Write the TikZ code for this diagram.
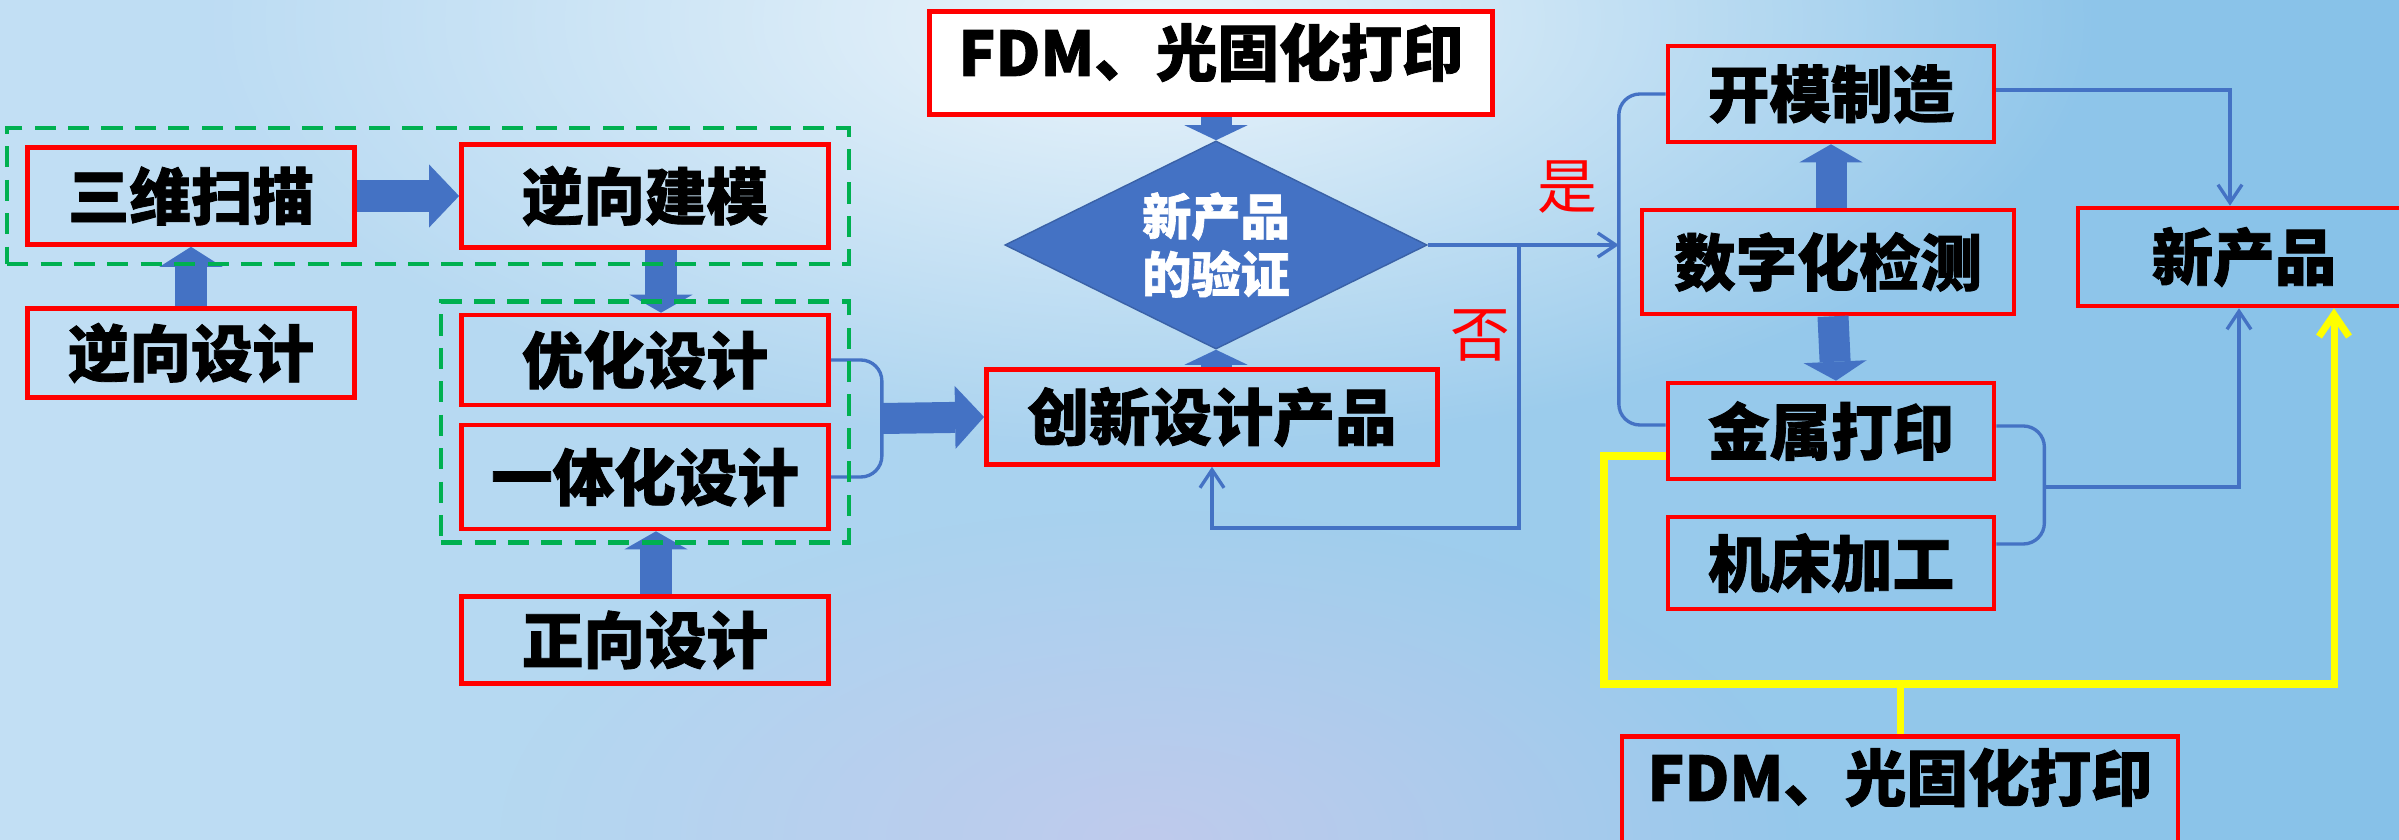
\documentclass[tikz,border=0pt]{standalone}
\usepackage{fontspec}
\newfontfamily\cjk{Noto Sans CJK SC}
\newfontfamily\cjkheavy{Noto Sans CJK SC}[FakeBold=1.3]
\usetikzlibrary{shapes.geometric, arrows.meta, calc, fit, fadings}

\definecolor{boxred}{HTML}{FF0000}
\definecolor{flowblue}{HTML}{4472C4}
\definecolor{dashgreen}{HTML}{00B050}
\definecolor{pathyellow}{HTML}{FFFF00}
\definecolor{bgleft}{HTML}{C2DFF4}
\definecolor{bgmid}{HTML}{CFE5F6}
\definecolor{bgright}{HTML}{86C1E8}
\definecolor{lavender}{HTML}{CAC8EC}

\tikzfading[name=fuzzyglow, inner color=transparent!0, outer color=transparent!100]

\tikzset{
  box/.style={draw=boxred, line width=1.3pt, inner sep=0pt, minimum width=#1,
    font=\cjkheavy\bfseries\fontsize{17.5}{20}\selectfont},
  box/.default=3.67cm,
  group/.style={draw=dashgreen, line width=1.3pt, dash pattern=on 6pt off 3.5pt, inner xsep=0.18cm},
  blockarrow/.style={flowblue, line width=0.31cm,
    -{Triangle[width=0.63cm, length=#1, line width=0pt]}},
  blockarrow/.default=0.2cm,
  thinline/.style={flowblue, line width=0.95pt},
  yellowline/.style={pathyellow, line width=2pt},
  answer/.style={text=boxred, font=\cjk\fontsize{17}{20}\selectfont}
}

\begin{document}
\begin{tikzpicture}[x=0.01cm, y=-0.01cm,
  >={Straight Barb[length=0.18cm, width=0.24cm]}]
\useasboundingbox (0,0) rectangle (2399,840);
\clip (0,0) rectangle (2399,840);
\shade[left color=bgleft, middle color=bgmid, right color=bgright] (0,0) rectangle (2399,840);
\fill[white, fill opacity=0.8, path fading=fuzzyglow] (1150,20) ellipse [x radius=950, y radius=430];
\fill[lavender, fill opacity=0.7, path fading=fuzzyglow] (1150,840) ellipse [x radius=650, y radius=330];

\node[box=3.27cm, minimum height=0.97cm] (scan) at (191,196) {三维扫描};
\node[box, minimum height=1.03cm] (rmodel) at (645,196) {逆向建模};
\node[box=3.27cm, minimum height=0.89cm] (rdesign) at (191,353) {逆向设计};
\node[box, minimum height=0.90cm] (optdesign) at (645,360) {优化设计};
\node[box, minimum height=1.04cm] (integ) at (645,477) {一体化设计};
\node[box, minimum height=0.87cm] (fdesign) at (645,640) {正向设计};
\node[box=4.51cm, minimum height=0.95cm] (innov) at (1212,417) {创新设计产品};
\node[box=5.63cm, minimum height=1.03cm, fill=white, text depth=0.27cm] (fdmtop) at (1211,63) {FDM、光固化打印};
\node[diamond, aspect=2, minimum width=4.22cm, minimum height=2.08cm, inner sep=0pt,
  fill=flowblue, draw=flowblue!85!black, text=white, align=center,
  font=\cjkheavy\bfseries\fontsize{14}{16.5}\selectfont] (verify) at (1216,245) {新产品\\的验证};
\node[box=3.26cm, minimum height=0.96cm] (mold) at (1831,94) {开模制造};
\node[box=3.72cm, minimum height=1.04cm] (detect) at (1828,262) {数字化检测};
\node[box=3.26cm, minimum height=0.96cm] (metal) at (1831,431) {金属打印};
\node[box=3.26cm, minimum height=0.92cm] (machine) at (1831,563) {机床加工};
\node[box=3.32cm, minimum height=0.98cm] (newprod) at (2244,257) {新产品};
\node[box=5.56cm, minimum height=1.23cm, text depth=0.47cm] (fdmbot) at (1900,798) {FDM、光固化打印};

\coordinate (dbr) at ($(optdesign.east)!0.5!(integ.east)+(51,0)$);
\coordinate (nobr) at ($(verify.east)+(91,0)$);
\coordinate (ybrace) at ($(verify.east)+(191,0)$);
\coordinate (mbr) at ($(metal.east)!0.5!(machine.east)+(48,-10)$);
\coordinate (ycorner) at (1604,684);

\draw[blockarrow=0.3cm] (scan) -- (rmodel);
\draw[blockarrow] (rdesign) -- (scan);
\draw[blockarrow=0.18cm] ($(rmodel.south)+(16,0)$) -- ($(optdesign.north)+(16,0)$);
\draw[blockarrow=0.18cm] ($(fdesign.north)+(11,0)$) -- ($(integ.south)+(11,0)$);
\draw[blockarrow=0.29cm] (dbr) -- (innov.west);
\draw[blockarrow=0.15cm] (verify.north |- fdmtop.south) -- (verify.north);
\draw[blockarrow=0.15cm] (verify.south |- innov.north) -- (verify.south);
\draw[blockarrow=0.18cm] (detect.north -| mold.south) -- (mold.south);
\draw[blockarrow=0.19cm] ($(detect.south)+(5,0)$) -- ($(metal.north)+(5,0)$);

\draw[thinline, rounded corners=6] (optdesign.east) -| (dbr) |- (integ.east);
\draw[thinline, ->] (verify.east) -- (ybrace);
\draw[thinline, ->] (nobr) -- ++(0,283) -| (innov.south);
\draw[thinline, rounded corners=6] (mold.west) -| (ybrace) |- ($(metal.west)+(0,-6)$);
\draw[thinline, ->] ($(mold.east)+(0,-4)$) -| ($(newprod.north)+(-14,0)$);
\draw[thinline, rounded corners=6] ($(metal.east)+(0,-5)$) -| (mbr) |- ($(machine.east)+(0,-19)$);
\draw[thinline, ->] (mbr) -| ($(newprod.south)+(-5,0)$);

\draw[yellowline, -{Straight Barb[length=0.22cm, width=0.3cm]}] ($(metal.west)+(0,25)$) -| (ycorner) -| ($(newprod.south)+(90,0)$);
\draw[yellowline] (ycorner -| fdmbot.north) -- (fdmbot.north);

\node[answer] (yes) at (1567,187) {是};
\node[answer] (no) at (1480,335) {否};

\node[group, inner ysep=0.14cm, fit=(scan)(rmodel)] (reverse) {};
\node[group, inner ysep=0.11cm, fit=(optdesign)(integ)] (design) {};
\end{tikzpicture}
\end{document}
